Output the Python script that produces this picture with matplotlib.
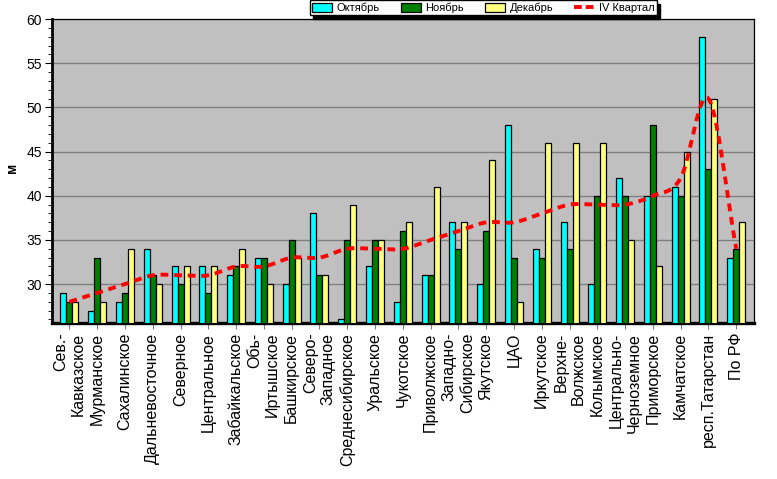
import numpy as np
import matplotlib
matplotlib.use("Agg")
import matplotlib.pyplot as plt
from matplotlib.patches import Patch
from matplotlib.lines import Line2D
from matplotlib.ticker import MultipleLocator

plt.rcParams['font.family'] = ['Liberation Sans', 'DejaVu Sans']

categories = ["Сев.-\nКавказское", "Мурманское", "Сахалинское", "Дальневосточное",
              "Северное", "Центральное", "Забайкальское", "Обь-\nИртышское",
              "Башкирское", "Северо-\nЗападное", "Среднесибирское", "Уральское",
              "Чукотское", "Приволжское", "Западно-\nСибирское", "Якутское", "ЦАО",
              "Иркутское", "Верхне-\nВолжское", "Колымское", "Центрально-\nЧерноземное",
              "Приморское", "Камчатское", "респ.Татарстан", "По РФ"]
october  = [29, 27, 28, 34, 32, 32, 31, 33, 30, 38, 26, 32, 28, 31, 37, 30, 48, 34, 37, 30, 42, 40, 41, 58, 33]
november = [28, 33, 29, 31, 30, 29, 32, 33, 35, 31, 35, 35, 36, 31, 34, 36, 33, 33, 34, 40, 40, 48, 40, 43, 34]
december = [28, 28, 34, 30, 32, 32, 34, 30, 33, 31, 39, 35, 37, 41, 37, 44, 28, 46, 46, 46, 35, 32, 45, 51, 37]
quarter  = [28, 29, 30, 31, 31, 31, 32, 32, 33, 33, 34, 34, 34, 35, 36, 37, 37, 38, 39, 39, 39, 40, 42, 51, 34]
series_names = ["Октябрь", "Ноябрь", "Декабрь", "IV Квартал"]
colors = ["#00FFFF", "#008000", "#FFFF80", "#FF0000"]

fig = plt.figure(figsize=(7.77, 4.79), dpi=100)
fig.patch.set_facecolor("white")
ax = fig.add_axes([0.0665, 0.3257, 0.9039, 0.6343])
ax.set_facecolor("#C0C0C0")

x = np.arange(len(categories))
w = 0.216
for i, (vals, c) in enumerate(zip([october, november, december], colors[:3])):
    ax.bar(x + (i - 1) * w, vals, width=w, color=c,
           edgecolor="black", linewidth=0.9, zorder=3)

# smoothed line (Catmull-Rom through the data points)
def catmull_rom(xs, ys, n=24):
    px = np.concatenate([[2 * xs[0] - xs[1]], xs, [2 * xs[-1] - xs[-2]]])
    py = np.concatenate([[2 * ys[0] - ys[1]], ys, [2 * ys[-1] - ys[-2]]])
    outx, outy = [], []
    t = np.linspace(0, 1, n, endpoint=False)
    for k in range(1, len(px) - 2):
        for arr, out in ((px, outx), (py, outy)):
            p0, p1, p2, p3 = arr[k - 1], arr[k], arr[k + 1], arr[k + 2]
            out.extend(0.5 * ((2 * p1) + (-p0 + p2) * t +
                              (2 * p0 - 5 * p1 + 4 * p2 - p3) * t ** 2 +
                              (-p0 + 3 * p1 - 3 * p2 + p3) * t ** 3))
    outx.append(xs[-1]); outy.append(ys[-1])
    return np.array(outx), np.array(outy)

sx, sy = catmull_rom(x.astype(float), np.array(quarter, dtype=float))
ax.plot(sx, sy, color=colors[3], linewidth=2.8, linestyle=(0, (2.0, 1.5)),
        zorder=4, solid_capstyle="butt", dash_capstyle="butt")

ax.set_xlim(-0.64, len(categories) - 0.36)
ax.set_ylim(25.6, 60)
ax.yaxis.set_major_locator(MultipleLocator(5))
ax.yaxis.set_minor_locator(MultipleLocator(1))
ax.grid(axis="y", which="major", color="#808080", linewidth=1.0, zorder=1)
ax.set_axisbelow(True)

ax.set_xticks(x)
ax.set_xticklabels(categories, rotation=90, fontsize=11.5, ha="center",
                   va="top", multialignment="right")
ax.tick_params(axis="x", length=4, color="#808080", pad=3)
ax.tick_params(axis="y", which="major", length=5, labelsize=10, pad=2)
ax.tick_params(axis="y", which="minor", length=3)

for s in ["top", "right"]:
    ax.spines[s].set_color("black")
    ax.spines[s].set_linewidth(0.9)
ax.spines["left"].set_linewidth(2.0)
ax.spines["bottom"].set_linewidth(2.4)

fig.text(0.016, 0.65, "м", rotation=90, fontsize=10, fontweight="bold",
         ha="center", va="center")

handles = [Patch(facecolor=colors[0], edgecolor="black", linewidth=0.9),
           Patch(facecolor=colors[1], edgecolor="black", linewidth=0.9),
           Patch(facecolor=colors[2], edgecolor="black", linewidth=0.9),
           Line2D([], [], color=colors[3], linewidth=2.8, linestyle=(0, (2.0, 1.0)))]
leg = fig.legend(handles, series_names, loc="upper center", bbox_to_anchor=(0.622, 0.999),
                 ncol=4, fontsize=8, frameon=True, fancybox=False,
                 shadow={'ox': 2.5, 'oy': -2.5, 'color': 'black', 'alpha': 1.0},
                 borderpad=0.2, handlelength=1.8, handleheight=0.9, columnspacing=1.9,
                 handletextpad=0.4, borderaxespad=0)
leg.get_frame().set_edgecolor("black")
leg.get_frame().set_linewidth(1.0)

fig.savefig("out.png", dpi=100, facecolor="white")
